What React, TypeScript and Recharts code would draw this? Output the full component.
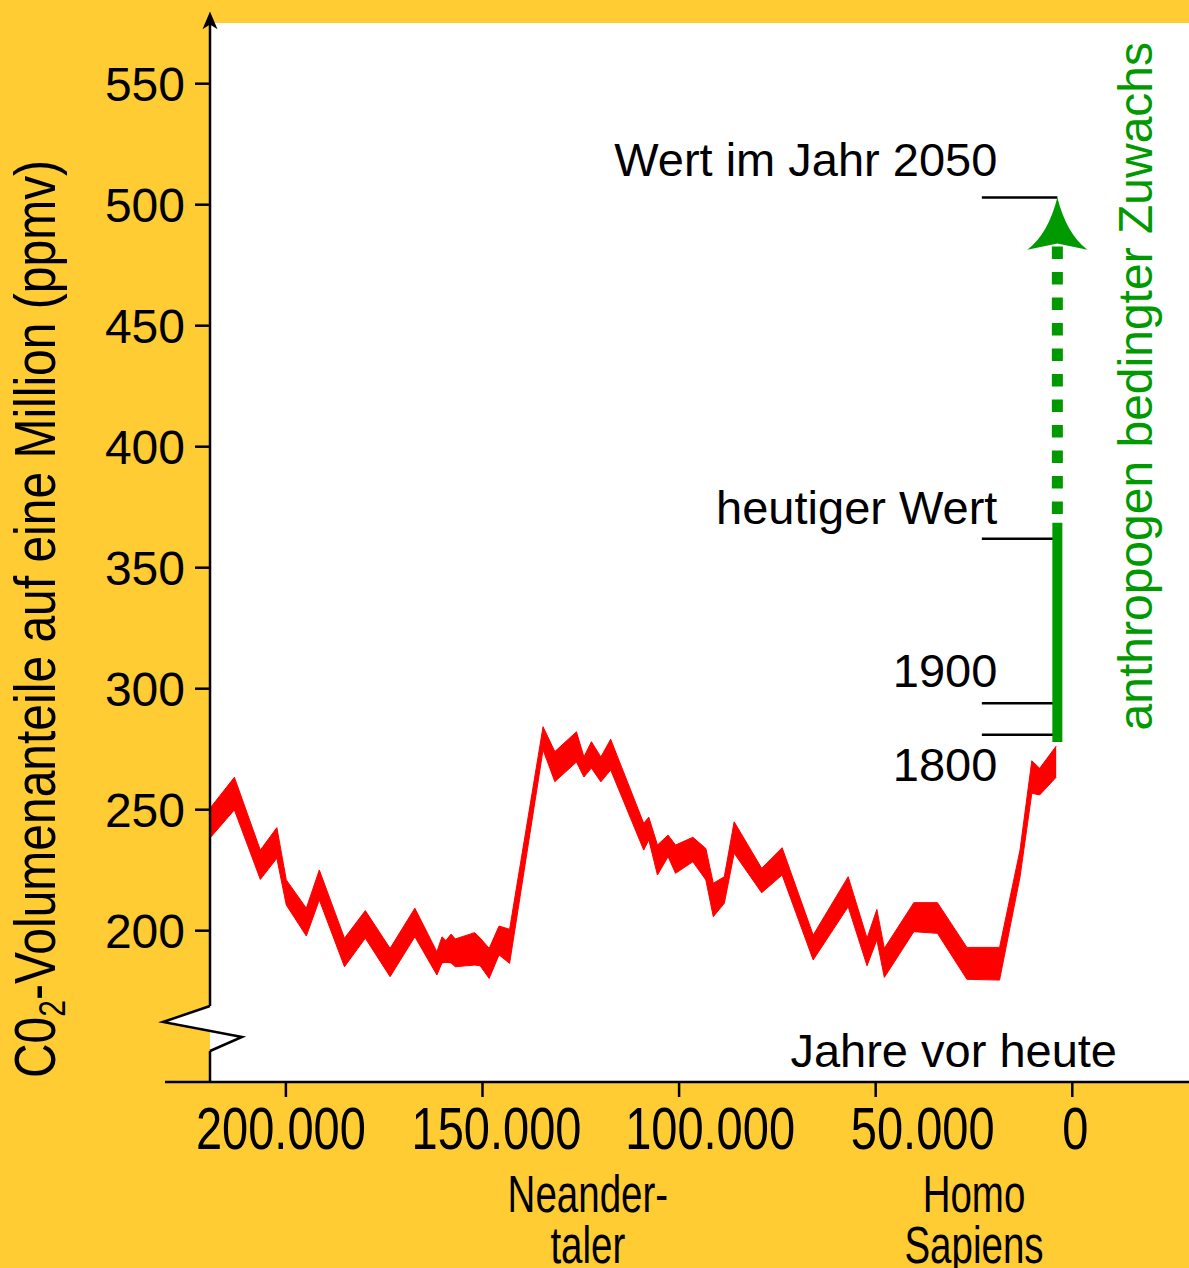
import React from 'react';
import {
  ComposedChart,
  Area,
  XAxis,
  YAxis,
  CartesianGrid,
  ReferenceLine,
  ReferenceArea,
  ReferenceDot,
} from 'recharts';

const FONT = '"Liberation Sans", Arial, Helvetica, sans-serif';
const YELLOW = '#ffcc33';
const GREEN = '#009900';
const RED = '#ff0000';

// years before present and the lower / upper edge of the CO2 band (ppmv)
const years = [
  219300, 213100, 206500, 202300, 199900, 194800, 191500, 185100, 179800, 173500,
  167200, 161600, 160300, 159300, 158000, 156900, 152000, 150600, 148300, 145800,
  143100, 134600, 131600, 126100, 124200, 122300, 119900, 117400, 109000, 107700,
  105500, 102800, 100900, 96500, 93200, 91300, 88500, 86000, 79000, 73800,
  65900, 57000, 52200, 49700, 47800, 40300, 34300, 26800, 18500, 13300,
  10300, 8300, 4100,
];
const co2Low = [
  238.3, 249.9, 221.2, 229.9, 210.6, 197.8, 212.7, 185.1, 196.9, 181.0,
  197.5, 181.7, 186.7, 186.9, 186.7, 185.1, 185.8, 185.5, 180.3, 190.0,
  186.5, 274.7, 261.6, 269.7, 263.5, 267.2, 261.5, 266.4, 233.3, 237.5,
  223.0, 230.6, 223.7, 228.5, 221.0, 205.8, 211.3, 232.0, 215.7, 223.0,
  187.9, 209.9, 185.5, 196.2, 180.7, 199.6, 198.9, 179.9, 179.6, 222.2,
  256.8, 256.1, 263.4,
];
const co2High = [
  250.6, 263.4, 233.3, 242.6, 221.0, 209.3, 225.1, 196.9, 208.3, 192.7,
  209.3, 191.3, 197.5, 195.9, 198.6, 196.6, 199.2, 197.0, 192.7, 201.9,
  200.6, 284.3, 274.0, 282.2, 271.8, 278.1, 271.8, 279.1, 244.4, 246.9,
  235.4, 239.5, 235.4, 238.6, 234.0, 219.6, 222.3, 245.0, 225.8, 234.3,
  198.2, 222.3, 196.9, 208.8, 192.7, 211.6, 211.6, 193.1, 193.1, 233.3,
  270.2, 267.1, 276.3,
];

const xTicks = [200000, 150000, 100000, 50000, 0];
const yTicks = [200, 250, 300, 350, 400, 450, 500, 550];

// reference marks on the right
const markerNames = ['Wert im Jahr 2050', 'heutiger Wert', '1900', '1800'];
const markerValues = [503, 362, 294, 281];
const markerFrom = 23000;
const markerAt = 3800;

// anthropogenic growth bar: start, today, end of dots, arrow tip
const growthLevels = [278, 368.6, 372.2, 484, 503];

const epochNames = [['Neander-', 'taler'], ['Homo', 'Sapiens']];
const epochYears = [123200, 25000];

const X_DOMAIN: [number, number] = [-29680, 219300];
const Y_DOMAIN: [number, number] = [137.48, 575.08];

const rows = years.map((x, i) => ({ x, co2: [co2Low[i], co2High[i]] }));

const formatYears = (v: number) => String(v).replace(/\B(?=(\d{3})+(?!\d))/g, '.');

// the printed labels sit a little off their tick marks
const xLabelShift: Record<number, number> = { 200000: -5, 150000: 14, 100000: 31, 50000: 47, 0: 3 };

const renderXTick = (props: any) => {
  const { x, y, payload } = props;
  const v = payload.value as number;
  return (
    <text
      transform={`translate(${x + (xLabelShift[v] ?? 0)},${y + 52}) scale(1,1.28)`}
      textAnchor="middle"
      fontSize={47}
      fontFamily={FONT}
      fill="#000"
    >
      {formatYears(v)}
    </text>
  );
};

const renderYTitle = () => (
  <text
    transform="translate(55,619) rotate(-90) scale(1,1.2)"
    textAnchor="middle"
    fontSize={48}
    fontFamily={FONT}
    fill="#000"
  >
    C0<tspan fontSize={30} dy={8}>2</tspan>
    <tspan dy={-8}>-Volumenanteile auf eine Million (ppmv)</tspan>
  </text>
);

const renderXTitle = () => (
  <text x={1117} y={1067} textAnchor="end" fontSize={47} fontFamily={FONT} fill="#000">
    Jahre vor heute
  </text>
);

const AxisBreak = (props: any) => {
  const { x, y, width, height } = props;
  const ax = x + width * 0.595;
  const pts = [
    [ax, y],
    [x, y + height * 0.356],
    [x + width, y + height * 0.689],
    [ax, y + height],
  ]
    .map((p) => p.join(','))
    .join(' ');
  return (
    <g>
      <polygon points={pts} fill="#fff" stroke="none" />
      <polyline points={pts} fill="none" stroke="#000" strokeWidth={2.5} />
    </g>
  );
};

const AxisArrow = (props: any) => {
  const { cx, cy } = props;
  return (
    <path
      d={`M${cx},${cy} L${cx + 7.5},${cy + 17.6} L${cx},${cy + 13} L${cx - 7.5},${cy + 17.6} Z`}
      fill="#000"
    />
  );
};

const GrowthArrow = (props: any) => {
  const { cx, cy } = props;
  return (
    <path
      d={`M${cx},${cy} Q${cx + 9},${cy + 36} ${cx + 30},${cy + 52.4} L${cx},${cy + 46} L${cx - 30},${cy + 52.4} Q${cx - 9},${cy + 36} ${cx},${cy} Z`}
      fill={GREEN}
    />
  );
};

const markerTextDy = [-21, -15, -16, 46];

const App: React.FC = () => {
  return (
    <div
      style={{
        position: 'absolute',
        left: 0,
        top: 0,
        width: 1189,
        height: 1268,
        background: YELLOW,
        overflow: 'hidden',
      }}
    >
      <ComposedChart width={1189} height={1268} data={rows} margin={{ top: 23, right: 0, bottom: 0, left: 0 }}>
        <CartesianGrid fill="#ffffff" horizontal={false} vertical={false} stroke="none" />
        <XAxis
          type="number"
          dataKey="x"
          domain={X_DOMAIN}
          reversed
          allowDataOverflow
          ticks={xTicks}
          interval={0}
          height={186}
          tickSize={15}
          tickMargin={0}
          tick={renderXTick}
          axisLine={{ stroke: '#000', strokeWidth: 2.5 }}
          tickLine={{ stroke: '#000', strokeWidth: 2.5 }}
          label={renderXTitle}
        />
        <YAxis
          type="number"
          domain={Y_DOMAIN}
          allowDataOverflow
          ticks={yTicks}
          interval={0}
          width={210}
          tickSize={15}
          tickMargin={10}
          axisLine={false}
          tickLine={{ stroke: '#000', strokeWidth: 2.5 }}
          tick={{ fill: '#000', fontSize: 48, fontFamily: FONT }}
          label={renderYTitle}
        />

        <Area
          type="linear"
          dataKey="co2"
          stroke={RED}
          strokeWidth={1}
          fill={RED}
          fillOpacity={1}
          dot={false}
          activeDot={false}
          isAnimationActive={false}
        />

        {/* y axis with break and arrow */}
        <ReferenceLine
          segment={[{ x: X_DOMAIN[1], y: 168.88 }, { x: X_DOMAIN[1], y: 578 }]}
          stroke="#000"
          strokeWidth={2.5}
          ifOverflow="visible"
        />
        <ReferenceLine
          segment={[{ x: X_DOMAIN[1], y: Y_DOMAIN[0] }, { x: X_DOMAIN[1], y: 150.29 }]}
          stroke="#000"
          strokeWidth={2.5}
          ifOverflow="visible"
        />
        <ReferenceLine
          segment={[{ x: 230750, y: Y_DOMAIN[0] }, { x: X_DOMAIN[1], y: Y_DOMAIN[0] }]}
          stroke="#000"
          strokeWidth={2.5}
          ifOverflow="visible"
        />
        <ReferenceArea
          x1={231260}
          x2={211160}
          y1={150.29}
          y2={168.88}
          ifOverflow="visible"
          shape={AxisBreak}
        />
        <ReferenceDot x={X_DOMAIN[1]} y={579.8} ifOverflow="visible" shape={AxisArrow} />

        {/* markers */}
        {markerValues.map((v, i) => (
          <ReferenceLine
            key={`m${i}`}
            segment={[{ x: markerFrom, y: v }, { x: markerAt, y: v }]}
            stroke="#000"
            strokeWidth={2.5}
            ifOverflow="visible"
          />
        ))}
        {markerValues.map((v, i) => (
          <ReferenceDot
            key={`t${i}`}
            x={markerFrom}
            y={v}
            ifOverflow="visible"
            shape={(p: any) => (
              <text
                x={p.cx + 15.5}
                y={p.cy + markerTextDy[i]}
                textAnchor="end"
                fontSize={47}
                fontFamily={FONT}
                fill="#000"
              >
                {markerNames[i]}
              </text>
            )}
          />
        ))}

        {/* anthropogenic growth */}
        <ReferenceLine
          segment={[{ x: markerAt, y: growthLevels[0] }, { x: markerAt, y: growthLevels[1] }]}
          stroke={GREEN}
          strokeWidth={10}
          ifOverflow="visible"
        />
        <ReferenceLine
          segment={[{ x: markerAt, y: growthLevels[2] }, { x: markerAt, y: growthLevels[3] }]}
          stroke={GREEN}
          strokeWidth={11}
          strokeDasharray="12.5 13"
          ifOverflow="visible"
        />
        <ReferenceDot x={markerAt} y={growthLevels[4]} ifOverflow="visible" shape={GrowthArrow} />
        <ReferenceDot
          x={-20300}
          y={425}
          ifOverflow="visible"
          shape={(p: any) => (
            <text
              transform={`translate(${p.cx},${p.cy}) rotate(-90)`}
              textAnchor="middle"
              fontSize={48}
              fontFamily={FONT}
              fill={GREEN}
            >
              anthropogen bedingter Zuwachs
            </text>
          )}
        />

        {/* epochs below the axis */}
        {epochYears.map((yr, i) => (
          <ReferenceDot
            key={`e${i}`}
            x={yr}
            y={Y_DOMAIN[0]}
            ifOverflow="visible"
            shape={(p: any) => (
              <g fontSize={38.5} fontFamily={FONT} fill="#000">
                <text transform={`translate(${p.cx},${p.cy + 130}) scale(1,1.33)`} textAnchor="middle">
                  {epochNames[i][0]}
                </text>
                <text transform={`translate(${p.cx},${p.cy + 181}) scale(1,1.33)`} textAnchor="middle">
                  {epochNames[i][1]}
                </text>
              </g>
            )}
          />
        ))}
      </ComposedChart>
    </div>
  );
};

export default App;
